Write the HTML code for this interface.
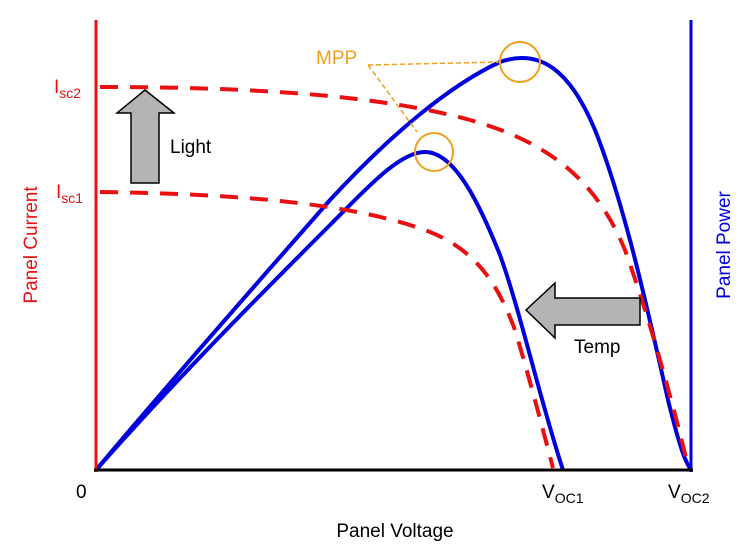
<!DOCTYPE html>
<html><head><style>body{margin:0;background:#fff}svg{display:block;font-family:"Liberation Sans",Arial,sans-serif}</style></head><body>
<svg width="752" height="552" viewBox="0 0 752 552">
<path d="M96,470 C180,370 260,280 330,200 C390,135 450,85 500,62 C540,48 570,70 595,130 C625,205 650,320 668,400 C678,440 684,460 690,468" fill="none" stroke="#0000dd" stroke-width="4"/>
<path d="M96,470 C180,375 260,295 330,225 C370,185 400,152 425,152 C455,152 480,205 500,255 C520,310 540,400 563,470" fill="none" stroke="#0000dd" stroke-width="4"/>
<path d="M100,87 C250,87 380,95 470,120 C560,145 600,190 625,250 C650,320 672,400 688,466" fill="none" stroke="#e81010" stroke-width="4" stroke-dasharray="18,12"/>
<path d="M100,192 C250,194 360,205 430,232 C480,252 500,290 515,330 C530,380 543,430 553,468" fill="none" stroke="#e81010" stroke-width="4" stroke-dasharray="18,12"/>
<line x1="96" y1="20" x2="96" y2="472" stroke="#e81010" stroke-width="3"/>
<line x1="691" y1="20" x2="691" y2="472" stroke="#0000dd" stroke-width="3"/>
<line x1="94" y1="470" x2="693" y2="470" stroke="#000" stroke-width="3"/>
<circle cx="520" cy="62" r="20" fill="none" stroke="#f0a020" stroke-width="2"/>
<circle cx="434" cy="152" r="19" fill="none" stroke="#f0a020" stroke-width="2"/>
<path d="M368,65 L500,62 M368,65 L417,132" stroke="#f0a020" stroke-width="1.5" stroke-dasharray="5,3" fill="none"/>
<text x="316" y="64" fill="#f0a020" font-size="19">MPP</text>
<polygon points="145,90 174,113 159,113 159,183 131,183 131,113 117,113" fill="#b4b4b4" stroke="#000" stroke-width="1.5"/>
<polygon points="526,310 555,283 555,298 640,298 640,325 555,325 555,338" fill="#b4b4b4" stroke="#000" stroke-width="1.5"/>
<text x="170" y="153" font-size="19">Light</text>
<text x="574" y="353" font-size="19">Temp</text>
<text x="54" y="93" fill="#e81010" font-size="19">I<tspan font-size="14" dy="5">sc2</tspan></text>
<text x="56" y="198" fill="#e81010" font-size="19">I<tspan font-size="14" dy="5">sc1</tspan></text>
<text x="76" y="498" font-size="19">0</text>
<text x="542" y="498" font-size="19">V<tspan font-size="14" dy="5">OC1</tspan></text>
<text x="668" y="498" font-size="19">V<tspan font-size="14" dy="5">OC2</tspan></text>
<text x="395" y="537" font-size="19" text-anchor="middle">Panel Voltage</text>
<text transform="translate(37,245) rotate(-90)" fill="#e81010" font-size="19" text-anchor="middle">Panel Current</text>
<text transform="translate(730,245) rotate(-90)" fill="#0000dd" font-size="19" text-anchor="middle">Panel Power</text>
</svg></body></html>
